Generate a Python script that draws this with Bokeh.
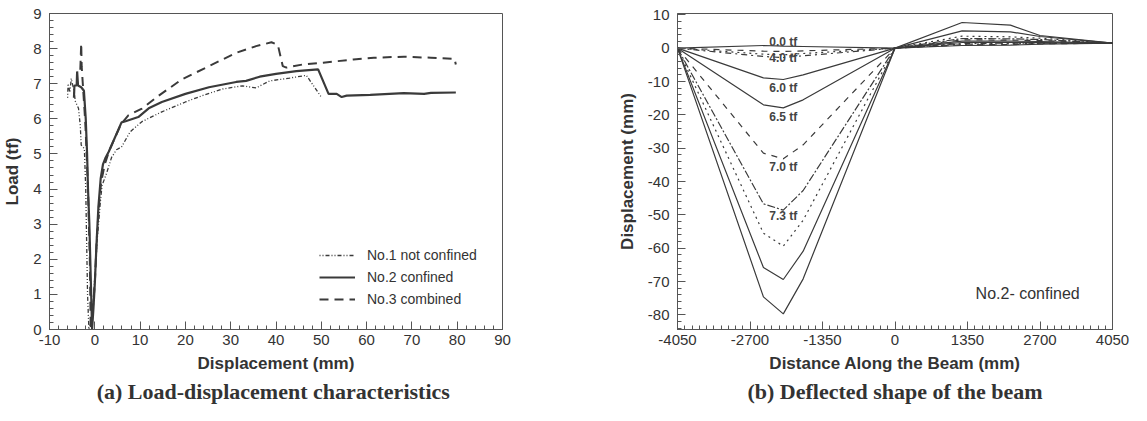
from bokeh.plotting import figure
from bokeh.layouts import row
from bokeh.models import Range1d, Legend, LegendItem, Label, FixedTicker
from bokeh.embed import file_html
from bokeh.resources import INLINE

# ---------------- data: (a) load-displacement ----------------
no1_disp = [-6.0, -5.9, -5.5, -5.2, -4.6, -4.3, -3.6, -3.2, -3.0, -2.3, -2.0, -1.8, -1.6, -1.3,
            -0.6, 0.0, 0.5, 1.2, 1.6, 2.6, 3.7, 4.8, 5.9, 7.8, 10.4, 14.8, 20.0, 23.7, 28.2,
            32.6, 35.6, 38.6, 43.0, 46.7, 50.1]
no1_load = [6.6, 7.0, 6.75, 7.15, 6.8, 6.5, 6.3, 5.8, 5.25, 5.15, 4.0, 2.5, 1.0, 0.0,
            0.3, 1.5, 2.5, 3.6, 4.1, 4.45, 4.9, 5.12, 5.2, 5.63, 5.92, 6.2, 6.48, 6.66, 6.85,
            6.94, 6.88, 7.08, 7.16, 7.24, 6.6]

no2_disp = [-4.6, -4.5, -4.0, -3.9, -3.7, -3.0, -2.4, -2.0, -1.7, -1.5, -1.2, -1.0, -0.8, -0.6,
            -0.3, 0.0, 0.4, 0.8, 1.3, 1.8, 2.4, 3.1, 5.9, 6.8, 9.6, 11.9, 14.8, 20.0, 25.2,
            31.2, 33.4, 36.4, 40.0, 44.5, 49.3, 51.6, 53.4, 54.5, 55.6, 60.8, 68.2, 72.7,
            74.2, 79.7]
no2_load = [6.6, 6.95, 6.95, 7.35, 6.95, 6.9, 6.8, 6.0, 5.0, 4.0, 3.0, 2.0, 1.0, 0.0,
            0.6, 1.3, 2.5, 3.5, 4.3, 4.7, 4.9, 5.07, 5.9, 5.93, 6.05, 6.3, 6.48, 6.71, 6.9,
            7.05, 7.08, 7.2, 7.28, 7.36, 7.41, 6.71, 6.71, 6.62, 6.66, 6.68, 6.73, 6.71,
            6.74, 6.75]

no3_disp = [-3.2, -3.0, -2.9, -2.6, -2.3, -2.1, -1.8, -1.5, -1.3, -1.1, -1.0, -0.9,
            -0.5, 0.0, 0.4, 0.9, 1.4, 2.2, 3.2, 5.8, 7.4, 10.4, 14.1, 19.3, 25.2, 31.2,
            35.6, 39.0, 40.4, 41.5, 42.3, 46.0, 50.4, 57.1, 61.6, 68.2, 74.2, 79.4, 79.7]
no3_load = [7.4, 8.15, 7.5, 6.9, 6.3, 5.9, 5.0, 4.0, 3.0, 2.0, 1.0, 0.0,
            0.5, 1.3, 2.5, 3.5, 4.2, 4.7, 5.1, 5.85, 6.1, 6.29, 6.66, 7.13, 7.5, 7.88,
            8.07, 8.18, 8.11, 7.5, 7.46, 7.55, 7.6, 7.69, 7.74, 7.77, 7.74, 7.71, 7.55]

legend_labels = ["No.1 not confined", "No.2 confined", "No.3 combined"]
load_ticks = list(range(0, 10))
disp_ticks = list(range(-10, 91, 10))
caption_a = "(a)  Load-displacement characteristics"

# ---------------- data: (b) deflected shape ----------------
beam_x = [-4050, -2450, -2080, -1710, 0, 1250, 2150, 2700, 4050]
shape_a = [0, 0.8, 0.6, 0.5, 0, 0.8, 0.9, 1.2, 1.5]          # 0.0 tf
shape_b = [0, -0.9, -1.0, -0.8, 0, 1.0, 1.1, 1.3, 1.5]
shape_c = [0, -1.8, -2.0, -1.6, 0, 1.2, 1.3, 1.4, 1.5]
shape_d = [0, -2.5, -2.8, -2.3, 0, 1.4, 1.5, 1.5, 1.5]       # 4.0 tf
shape_e = [0, -8.9, -9.4, -8.0, 0, 1.7, 1.7, 1.7, 1.5]       # 6.0 tf
shape_f = [0, -17.0, -17.9, -15.5, 0, 2.1, 2.1, 2.0, 1.5]    # 6.5 tf
shape_g = [0, -31.5, -33.2, -29.0, 0, 2.5, 2.4, 2.3, 1.5]    # 7.0 tf
shape_h = [0, -46.7, -48.6, -42.7, 0, 2.9, 2.8, 2.6, 1.5]    # 7.3 tf
shape_i = [0, -55.5, -59.4, -51.6, 0, 3.6, 3.4, 3.0, 1.5]
shape_j = [0, -65.8, -69.4, -60.9, 0, 5.2, 4.9, 3.5, 1.5]
shape_k = [0, -74.6, -79.7, -69.2, 0, 7.7, 6.9, 3.8, 1.5]
shapes = [shape_a, shape_b, shape_c, shape_d, shape_e, shape_f,
          shape_g, shape_h, shape_i, shape_j, shape_k]
shape_dash = ["solid", "dashed", "dotted", "dashdot", "solid", "solid",
              "dashed", "8 2 2 2", "dotted", "solid", "solid"]

load_labels = ["0.0 tf", "4.0 tf", "6.0 tf", "6.5 tf", "7.0 tf", "7.3 tf"]
load_label_y = [1.9, -3.0, -11.9, -20.7, -35.6, -50.3]
load_label_x = -2080
beam_ticks = [-4050, -2700, -1350, 0, 1350, 2700, 4050]
defl_ticks = list(range(-80, 11, 10))
caption_b = "(b) Deflected shape of the beam"

INK = "#3a3a3a"
SANS = "Liberation Sans"
SERIF = "Liberation Serif"


def style_axes(p):
    p.xgrid.visible = False
    p.ygrid.visible = False
    p.outline_line_color = "#555555"
    p.outline_line_width = 1
    for ax in (p.xaxis[0], p.yaxis[0]):
        ax.major_tick_in = 8
        ax.major_tick_out = 0
        ax.minor_tick_in = 4
        ax.minor_tick_out = 0
        ax.axis_line_color = "#555555"
        ax.major_tick_line_color = "#555555"
        ax.minor_tick_line_color = "#555555"
        ax.major_label_text_font = SANS
        ax.major_label_text_font_size = "15px"
        ax.major_label_text_color = "#333333"
        ax.axis_label_text_font = SANS
        ax.axis_label_text_font_size = "17px"
        ax.axis_label_text_font_style = "bold"
        ax.axis_label_text_color = "#333333"
    p.xaxis[0].major_label_standoff = 5
    p.xaxis[0].axis_label_standoff = 6
    p.yaxis[0].major_label_standoff = 8
    p.yaxis[0].axis_label_standoff = 8
    p.title.align = "center"
    p.title.text_font = SERIF
    p.title.text_font_size = "22px"
    p.title.text_font_style = "bold"
    p.title.text_color = "#333333"
    p.title.standoff = 3


def hyphen_labels(ticks):
    return {t: str(t) for t in ticks}


# ---------------- panel (a) ----------------
p1 = figure(width=582, height=405, x_range=Range1d(-10, 90), y_range=Range1d(0, 9),
            output_backend="svg", toolbar_location=None,
            title=caption_a, title_location="below",
            min_border_left=41, min_border_right=80, min_border_top=13, min_border_bottom=0)
style_axes(p1)
p1.title.offset = 7
p1.xaxis.ticker = FixedTicker(ticks=disp_ticks, minor_ticks=list(range(-10, 91, 2)))
p1.yaxis.ticker = FixedTicker(ticks=load_ticks, minor_ticks=[i / 5 for i in range(0, 46)])
p1.xaxis.major_label_overrides = hyphen_labels(disp_ticks)
p1.xaxis.axis_label = "Displacement (mm)"
p1.yaxis.axis_label = "Load (tf)"

r1 = p1.line(no1_disp, no1_load, line_color=INK, line_width=1.3, line_dash="1 2 1 2 4 2")
r2 = p1.line(no2_disp, no2_load, line_color=INK, line_width=2.2)
r3 = p1.line(no3_disp, no3_load, line_color=INK, line_width=2.0, line_dash="9 6")

leg = Legend(items=[LegendItem(label=legend_labels[0], renderers=[r1]),
                    LegendItem(label=legend_labels[1], renderers=[r2]),
                    LegendItem(label=legend_labels[2], renderers=[r3])],
             location=(266, 16))
leg.background_fill_alpha = 0
leg.border_line_alpha = 0
leg.label_text_font = SANS
leg.label_text_font_size = "14px"
leg.label_text_color = "#333333"
leg.glyph_width = 36
leg.label_standoff = 12
leg.spacing = 2
leg.padding = 4
p1.add_layout(leg)

# ---------------- panel (b) ----------------
p2 = figure(width=549, height=405, x_range=Range1d(-4050, 4050), y_range=Range1d(-84.4, 10.4),
            output_backend="svg", toolbar_location=None,
            title=caption_b, title_location="below",
            min_border_left=95, min_border_right=19, min_border_top=7, min_border_bottom=0)
style_axes(p2)
p2.title.offset = -17
p2.xaxis.ticker = FixedTicker(ticks=beam_ticks, minor_ticks=list(range(-4050, 4051, 135)))
p2.yaxis.ticker = FixedTicker(ticks=defl_ticks, minor_ticks=list(range(-84, 11, 2)))
p2.xaxis.major_label_overrides = hyphen_labels(beam_ticks)
p2.yaxis.major_label_overrides = hyphen_labels(defl_ticks)
p2.xaxis.axis_label = "Distance Along the Beam (mm)"
p2.yaxis.axis_label = "Displacement (mm)"

for ys, dash in zip(shapes, shape_dash):
    p2.line(beam_x, ys, line_color=INK, line_width=1.2, line_dash=dash)

for txt, yv in zip(load_labels, load_label_y):
    p2.add_layout(Label(x=load_label_x, y=yv, text=txt, text_align="center",
                        text_baseline="middle", text_font=SANS, text_font_size="12px",
                        text_font_style="bold", text_color="#444444"))

p2.add_layout(Label(x=2470, y=-73.6, text="No.2- confined", text_align="center",
                    text_baseline="middle", text_font=SANS, text_font_size="16px",
                    text_color="#333333"))

layout = row(p1, p2)
open("out.html", "w").write(file_html(layout, INLINE))
